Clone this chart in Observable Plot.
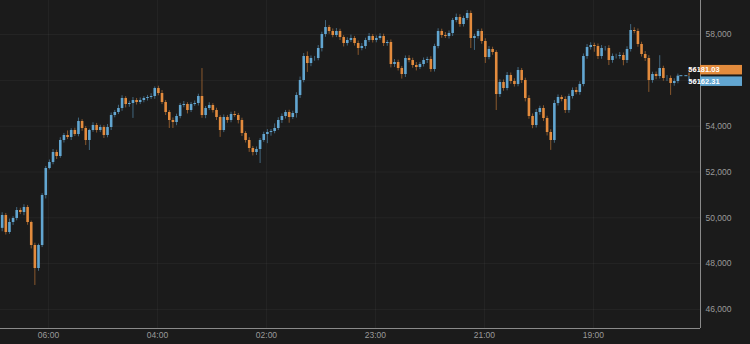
<!DOCTYPE html>
<html><head><meta charset="utf-8">
<script src="https://cdn.jsdelivr.net/npm/d3@7"></script>
<script src="https://cdn.jsdelivr.net/npm/@observablehq/plot@0.6"></script>
<style>
html,body{margin:0;padding:0;background:#1b1b1b;}
#chart{width:750px;height:344px;}
</style></head><body><div id="chart"></div>
<script>
const firstOpen = 49540;
const close = [
50101, 49359, 49796, 49970, 50319, 50232, 50450, 49796, 48792, 47788,
48792, 50974, 52152, 52414, 52850, 52676, 53374, 53592, 53505, 53810,
53636, 54203, 53898, 53374, 53810, 54029, 53810, 53941, 53592, 53941,
54465, 54596, 54771, 55207, 54945, 54989, 55120, 55032, 55120, 55207,
55251, 55294, 55643, 55425, 55032, 54596, 54247, 54160, 54422, 54902,
54945, 54683, 54945, 54989, 55294, 54465, 54771, 54902, 54683, 54378,
53810, 54378, 54247, 54509, 54465, 54247, 53680, 53374, 53025, 52850,
52981, 53374, 53636, 53723, 53767, 53898, 54247, 54422, 54596, 54378,
54553, 55338, 55993, 57040, 56735, 56953, 56953, 57389, 58000, 58306,
58131, 57956, 58131, 57869, 57607, 57738, 57825, 57607, 57389, 57476,
57738, 57913, 57738, 57825, 57913, 57607, 57651, 56691, 56778, 56516,
56254, 56953, 56865, 56647, 56560, 56691, 56865, 56909, 56473, 57476,
58131, 57956, 57913, 58044, 58611, 58742, 58436, 58698, 58916, 57825,
57913, 58131, 57695, 56996, 57345, 57215, 55382, 55905, 55643, 56211,
55949, 55818, 56429, 55993, 55207, 54422, 54029, 54596, 54771, 54334,
53723, 53374, 54989, 55251, 55163, 54683, 55294, 55556, 55469, 55818,
57040, 57433, 57520, 57476, 57040, 57389, 57389, 56865, 57040, 57040,
57083, 56865, 57345, 58175, 58131, 57564, 57127, 56953, 55993, 56254,
56167, 56516, 56080, 56080, 55862, 55949, 56181.03
];
const upWick = [
120, 90, 150, 80, 130, 100, 120, 90, 60, 100,
60, 80, 90, 110, 130, 100, 120, 90, 200, 80,
100, 150, 80, 90, 60, 120, 90, 100, 80, 130,
110, 90, 140, 120, 80, 100, 130, 90, 110, 80,
90, 120, 70, 100, 130, 90, 80, 110, 100, 90,
130, 80, 90, 110, 100, 1220, 90, 120, 80, 100,
80, 110, 90, 100, 130, 90, 100, 80, 120, 90,
110, 90, 100, 130, 90, 200, 120, 110, 90, 100,
100, 120, 150, 130, 200, 110, 90, 130, 100, 300,
90, 110, 130, 100, 80, 120, 150, 90, 110, 130,
100, 130, 90, 110, 120, 100, 90, 110, 130, 100,
90, 110, 120, 100, 130, 90, 110, 100, 120, 100,
120, 100, 130, 110, 90, 150, 120, 100, 130, 110,
100, 90, 110, 120, 130, 100, 80, 120, 110, 130,
110, 120, 130, 90, 100, 120, 110, 130, 100, 120,
100, 120, 130, 110, 90, 120, 100, 110, 130, 120,
110, 130, 120, 100, 110, 130, 90, 120, 110, 100,
130, 110, 120, 260, 120, 110, 100, 130, 120, 100,
110, 560, 100, 130, 110, 120, 90
];
const dnWick = [
150, 110, 80, 130, 100, 90, 140, 120, 150, 740,
120, 90, 150, 60, 100, 130, 80, 110, 90, 130,
90, 100, 120, 220, 436, 80, 110, 90, 130, 100,
130, 100, 90, 120, 150, 120, 650, 110, 90, 100,
110, 90, 120, 100, 90, 130, 350, 262, 140, 100,
100, 150, 90, 80, 110, 120, 140, 90, 110, 130,
300, 90, 120, 100, 80, 150, 130, 110, 170, 150,
130, 610, 80, 400, 160, 100, 90, 130, 110, 250,
90, 200, 130, 100, 390, 140, 120, 100, 150, 120,
120, 100, 90, 130, 150, 110, 90, 110, 300, 100,
120, 90, 110, 100, 80, 130, 120, 150, 130, 110,
200, 130, 100, 120, 150, 90, 110, 130, 120, 110,
100, 120, 90, 110, 130, 100, 120, 110, 90, 436,
520, 110, 120, 260, 100, 120, 700, 130, 120, 100,
120, 110, 100, 130, 150, 120, 140, 110, 120, 130,
150, 430, 120, 110, 100, 130, 120, 110, 100, 120,
100, 120, 110, 250, 130, 120, 110, 220, 120, 110,
120, 230, 130, 110, 100, 120, 110, 130, 520, 120,
140, 110, 120, 130, 520, 120, 100
];
const minutesPerCandle = 4;
const xTicks = [51, 171, 291, 411, 531, 651];
const xTickLabels = ["06:00", "04:00", "02:00", "23:00", "21:00", "19:00"];
const yGrid = [46000, 48000, 50000, 52000, 54000, 56000, 58000];
const yTickLabels = [46000, 48000, 50000, 52000, 54000, 58000];
const lastLabels = [56181.03, 56162.31];
const xDomain = [-1.84, 768.9];
const yDomain = [45170, 59484];

const upColor = "#62a6d1", downColor = "#e38b3d";
const data = close.map((c, i) => {
  const o = i === 0 ? firstOpen : close[i - 1];
  return {t: i * minutesPerCandle, open: o, close: c,
          high: Math.max(o, c) + upWick[i], low: Math.min(o, c) - dnWick[i],
          color: c >= o ? upColor : downColor};
});
const labelMap = new Map(xTicks.map((t, i) => [t, xTickLabels[i]]));

const plot = Plot.plot({
  width: 750, height: 344,
  marginLeft: 0, marginRight: 50, marginTop: 0, marginBottom: 16,
  style: {background: "#1b1b1b", color: "#9a9a9a", fontFamily: "'Liberation Sans', Arial, sans-serif", fontSize: "8.5px", overflow: "visible"},
  x: {domain: xDomain, axis: null},
  y: {domain: yDomain, axis: null},
  marks: [
    Plot.gridX(xTicks, {stroke: "#ffffff", strokeOpacity: 0.045}),
    Plot.gridY(yGrid, {stroke: "#ffffff", strokeOpacity: 0.045}),
    Plot.ruleX(data, {x: "t", y1: "low", y2: "high", stroke: "color", strokeOpacity: 0.55, strokeWidth: 1}),
    Plot.ruleX(data, {x: "t", y1: "open", y2: "close", stroke: "color", strokeWidth: 2.6}),
    Plot.ruleX([xDomain[1]], {stroke: "#8a8a8a", strokeWidth: 1}),
    Plot.ruleY([yDomain[0]], {stroke: "#8a8a8a", strokeWidth: 1}),
    Plot.axisX(xTicks, {tickFormat: d => labelMap.get(d), tickSize: 0, tickPadding: 3, fill: "#9a9a9a", label: null}),
    Plot.axisY(yTickLabels, {anchor: "right", tickFormat: d3.format(","), tickSize: 0, tickPadding: 5, fill: "#9a9a9a", label: null})
  ]
});

const sx = plot.scale("x"), sy = plot.scale("y");
const xr = sx.apply(xDomain[1]);
const xl = sx.apply(data[data.length - 1].t);
const yl = sy.apply(close[close.length - 1]);
const xm = xr - 11;
const svg = d3.select(plot);
const g = svg.append("g");
g.append("path").attr("d", `M${xl + 2},${yl}H${xm}V${yl + 5.5}H${xr}`)
  .attr("fill", "none").attr("stroke", upColor).attr("stroke-dasharray", "3,2");
g.append("path").attr("d", `M${xm},${yl}V${yl - 6}H${xr}`)
  .attr("fill", "none").attr("stroke", downColor).attr("stroke-dasharray", "3,2");
const badges = [{v: lastLabels[0], c: downColor, y: yl - 6}, {v: lastLabels[1], c: upColor, y: yl + 5.5}];
badges.forEach(b => {
  g.append("rect").attr("x", xr).attr("y", b.y - 4.75).attr("width", 42).attr("height", 9.5).attr("fill", b.c);
  g.append("text").attr("x", xr + 4).attr("y", b.y).attr("dy", "0.35em")
    .attr("fill", "#ffffff").attr("font-size", 7.5).attr("font-weight", "bold")
    .attr("font-family", "'Liberation Sans', Arial, sans-serif")
    .text(b.v.toFixed(2));
});
document.getElementById("chart").appendChild(plot);
</script>
</body></html>
